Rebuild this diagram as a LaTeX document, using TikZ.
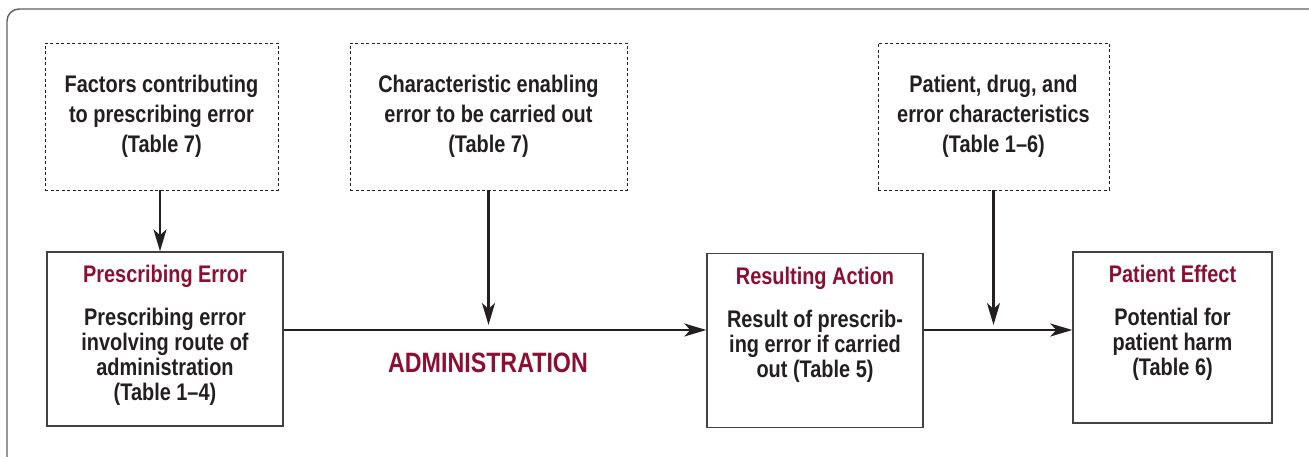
\documentclass[tikz,border=0pt]{standalone}
\usepackage{fontspec}
\setmainfont{Liberation Sans}[FakeStretch=0.83]
\usepackage{xcolor}
\usepackage{tikz}
\usetikzlibrary{arrows.meta,positioning}
\definecolor{errred}{RGB}{140,14,50}
\definecolor{inkdark}{RGB}{35,31,32}
\definecolor{framegray}{RGB}{95,95,95}

\begin{document}
\begin{tikzpicture}[
x=1pt, y=1pt,
factbox/.style={draw=inkdark, dashed, dash pattern=on 3pt off 2.5pt, line width=0.8pt, align=center, text=inkdark, font=\bfseries\fontsize{24}{30}\selectfont, minimum height=147pt, inner sep=0pt},
stagebox/.style={draw=inkdark!85, line width=1.4pt, minimum height=174pt, inner sep=0pt},
stagetxt/.style={align=center, text=inkdark, font=\bfseries\fontsize{24}{25}\selectfont, inner sep=0pt},
arr/.style={-{Stealth[length=22pt, width=13pt, inset=6pt]}, line width=2.4pt, draw=inkdark}
]
\useasboundingbox (0,0) rectangle (1309,457);
\draw[framegray, line width=1.4pt, rounded corners=12pt] (7,448) rectangle (1340,-30);

% upper (dashed) boxes
\node[factbox, minimum width=233pt] (facA) at (161.5,340.5) {Factors contributing\\to prescribing error\\(Table 7)};
\node[factbox, minimum width=277pt] (facB) at (488.5,340.5) {Characteristic enabling\\error to be carried out\\(Table 7)};
\node[factbox, minimum width=231pt] (facC) at (993.5,340.5) {Patient, drug, and\\error characteristics\\(Table 1--6)};

% stage boxes
\node[stagebox, minimum width=236pt] (errbox) at (165,118) {};
\node[stagebox, minimum width=216pt] (actbox) at (815,116.5) {};
\node[stagebox, minimum width=199pt, minimum height=171pt] (effbox) at (1172.5,119.5) {};

\node[stagetxt, below=14pt of errbox.north] (errtxt) {\textcolor{errred}{Prescribing Error}\\[18pt]Prescribing error\\involving route of\\administration\\(Table 1--4)};
\node[stagetxt, below=14pt of actbox.north] (acttxt) {\textcolor{errred}{Resulting Action}\\[18pt]Result of prescrib-\\ing error if carried\\out (Table 5)};
\node[stagetxt, below=14pt of effbox.north] (efftxt) {\textcolor{errred}{Patient Effect}\\[18pt]Potential for\\patient harm\\(Table 6)};

\coordinate (flow) at (0,127);
\node[text=errred, font=\bfseries\fontsize{28}{30}\selectfont, inner sep=0pt] (route) at (488,94) {ADMINISTRATION};

% connectors
\draw[arr] (facA.south -| 160,0) -- (errbox.north -| 160,0);
\draw[arr] (errbox.east |- flow) -- (actbox.west |- flow);
\draw[arr] (actbox.east |- flow) -- (effbox.west |- flow);
\draw[arr, shorten >=5pt] (facB.south) -- (facB.south |- flow);
\draw[arr, shorten >=5pt] (facC.south) -- (facC.south |- flow);
\end{tikzpicture}
\end{document}
